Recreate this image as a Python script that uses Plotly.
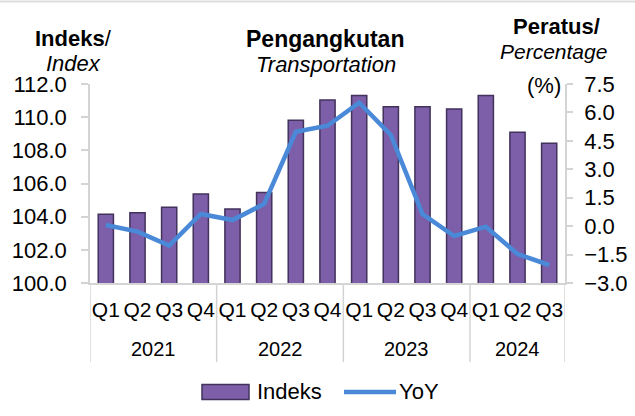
import plotly.graph_objects as go

year_labels = ["2021", "2022", "2023", "2024"]
quarters = ["Q1", "Q2", "Q3", "Q4"] * 3 + ["Q1", "Q2", "Q3"]
years = ["2021"] * 4 + ["2022"] * 4 + ["2023"] * 4 + ["2024"] * 3
indeks = [104.14, 104.24, 104.57, 105.37, 104.46, 105.45, 109.81, 111.04,
          111.30, 110.63, 110.63, 110.50, 111.30, 109.09, 108.43]
yoy = [0.06, -0.29, -1.03, 0.64, 0.32, 1.17, 4.98, 5.30,
       6.51, 4.81, 0.64, -0.52, -0.03, -1.47, -2.05]

FONT = "Liberation Sans, Arial, sans-serif"
AX = "#d4d4d4"
BAR = "#7d5ea8"
BAR_EDGE = "#42325c"
LINE = "#4a89d7"
W, H = 635, 416
L, R, T, B = 90, 70, 84, 133
PW, PH = W - L - R, H - T - B

def px(x):
    return (x - L) / PW

def py(y):
    return (T + PH - y) / PH

xs = list(range(len(quarters)))

fig = go.Figure()
fig.add_trace(go.Bar(
    x=xs, y=indeks, name="Indeks", width=0.48,
    marker=dict(color=BAR, line=dict(color=BAR_EDGE, width=1.5)),
    yaxis="y", showlegend=False,
))
fig.add_trace(go.Scatter(
    x=xs, y=yoy, name="YoY", mode="lines",
    line=dict(color=LINE, width=4.5),
    yaxis="y2", showlegend=False,
))

fig.update_layout(
    width=W, height=H,
    margin=dict(l=L, r=R, t=T, b=B, autoexpand=False),
    paper_bgcolor="white", plot_bgcolor="white",
    font=dict(family=FONT, size=21, color="#000000"),
    showlegend=False,
    xaxis=dict(range=[-0.5, len(xs) - 0.5], tickvals=xs, ticktext=quarters,
               tickangle=0, showline=True, linecolor=AX, linewidth=1.5,
               ticks="", showgrid=False, zeroline=False,
               tickfont=dict(size=21), ticklabelstandoff=7),
    yaxis=dict(range=[100, 112], dtick=2, tickformat=".1f", showline=True,
               linecolor=AX, linewidth=1.5, ticks="outside", tickcolor=AX,
               ticklen=7, tickwidth=1.5, showgrid=False, zeroline=False,
               tickfont=dict(size=22), ticklabelstandoff=10),
    yaxis2=dict(range=[-3, 7.5], dtick=1.5, tickformat=".1f", overlaying="y",
                side="right", showline=True, linecolor=AX, linewidth=1.5,
                ticks="outside", tickcolor=AX, ticklen=6, tickwidth=1.5,
                showgrid=False, zeroline=False, tickfont=dict(size=22),
                ticklabelstandoff=7),
)

# thin frame line at the top of the picture
fig.add_shape(type="line", xref="paper", yref="paper", x0=px(0), x1=px(W),
              y0=py(1.5), y1=py(1.5), line=dict(color="#dddddd", width=2))

# group dividers below the x axis
bounds = [-0.5]
for i in range(1, len(years)):
    if years[i] != years[i - 1]:
        bounds.append(i - 0.5)
bounds.append(len(years) - 0.5)
for b in bounds:
    fig.add_shape(type="line", xref="x", yref="paper", x0=b, x1=b,
                  y0=0, y1=py(362), line=dict(color=AX, width=1.5))

# year labels centred on their quarters
for yl in year_labels:
    idx = [i for i, y in enumerate(years) if y == yl]
    fig.add_annotation(text=yl, xref="x", yref="paper",
                       x=sum(idx) / len(idx), y=py(349),
                       xanchor="center", yanchor="middle", showarrow=False,
                       font=dict(family=FONT, size=20, color="black"))

ann = [
    ("<b>Pengangkutan</b>", 324.5, 39.5, 23),
    ("<i>Transportation</i>", 325.5, 64, 22),
    ("<b>Indeks</b>/", 73, 38, 22),
    ("<i>Index</i>", 73, 63, 22),
    ("<b>Peratus/</b>", 556, 27, 22),
    ("<i>Percentage</i>", 553, 51, 21),
    ("(%)", 543.7, 85, 22),
]
for text, x, y, s in ann:
    fig.add_annotation(text=text, xref="paper", yref="paper",
                       x=px(x), y=py(y), xanchor="center", yanchor="middle",
                       showarrow=False,
                       font=dict(family=FONT, size=s, color="black"))

# legend
fig.add_shape(type="rect", xref="paper", yref="paper",
              x0=px(202), x1=px(249), y0=py(399.5), y1=py(384.5),
              fillcolor=BAR, line=dict(color=BAR_EDGE, width=1.5))
fig.add_annotation(text="Indeks", xref="paper", yref="paper", x=px(255),
                   y=py(391), xanchor="left", yanchor="middle", showarrow=False,
                   font=dict(family=FONT, size=22, color="black"))
fig.add_shape(type="line", xref="paper", yref="paper",
              x0=px(344), x1=px(396), y0=py(392), y1=py(392),
              line=dict(color=LINE, width=4.5))
fig.add_annotation(text="YoY", xref="paper", yref="paper", x=px(396.5),
                   y=py(391), xanchor="left", yanchor="middle", showarrow=False,
                   font=dict(family=FONT, size=22, color="black"))

fig.write_html(
    "out.html",
    config={"displayModeBar": False},
    post_script="document.body.style.margin='0';"
                "document.body.style.overflow='hidden';",
)
